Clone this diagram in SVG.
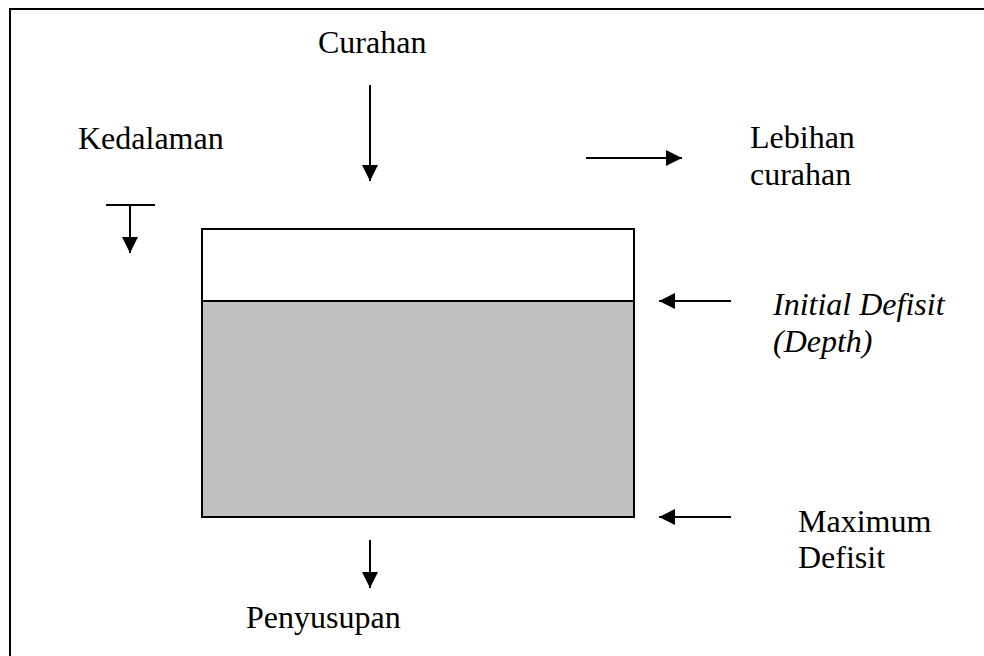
<svg xmlns="http://www.w3.org/2000/svg" width="984" height="656" viewBox="0 0 984 656">
<style>
.t{font-family:"Liberation Serif","Times New Roman",serif;font-size:32px;fill:#000}
.i{font-style:italic}
.c{stroke:#000;stroke-width:2;fill:none}
</style>
<defs>
<marker id="ah" viewBox="0 0 16 16" refX="16" refY="8" markerWidth="16" markerHeight="16" markerUnits="userSpaceOnUse" orient="auto">
<path d="M0,0 L16,8 L0,16 Z" fill="#000"/>
</marker>
</defs>
<rect x="0" y="0" width="984" height="656" fill="#fff"/>
<rect id="frame" x="10" y="9" width="1000" height="700" fill="none" stroke="#000" stroke-width="2"/>
<g id="reservoir">
<rect x="202" y="229" width="432" height="72" fill="#fff" stroke="#000" stroke-width="2"/>
<rect x="202" y="301" width="432" height="216" fill="#c0c0c0" stroke="#000" stroke-width="2"/>
</g>
<g id="curahan"><text class="t" x="318" y="53">Curahan</text></g>
<g id="kedalaman"><text class="t" x="78" y="149">Kedalaman</text></g>
<g id="lebihan"><text class="t" x="750" y="148">Lebihan</text><text class="t" x="750" y="185">curahan</text></g>
<g id="initial"><text class="t i" x="773" y="315">Initial Defisit</text><text class="t i" x="773" y="352">(Depth)</text></g>
<g id="maximum"><text class="t" x="798" y="532">Maximum</text><text class="t" x="798" y="568">Defisit</text></g>
<g id="penyusupan"><text class="t" x="246" y="628">Penyusupan</text></g>
<g id="connectors">
<line class="c" x1="370" y1="85" x2="370" y2="181" marker-end="url(#ah)"/>
<line class="c" x1="106" y1="205" x2="155" y2="205"/>
<line class="c" x1="130" y1="205" x2="130" y2="253" marker-end="url(#ah)"/>
<line class="c" x1="586" y1="158" x2="682" y2="158" marker-end="url(#ah)"/>
<line class="c" x1="731" y1="301" x2="659" y2="301" marker-end="url(#ah)"/>
<line class="c" x1="731" y1="517" x2="659" y2="517" marker-end="url(#ah)"/>
<line class="c" x1="370" y1="540" x2="370" y2="588" marker-end="url(#ah)"/>
</g>
</svg>
